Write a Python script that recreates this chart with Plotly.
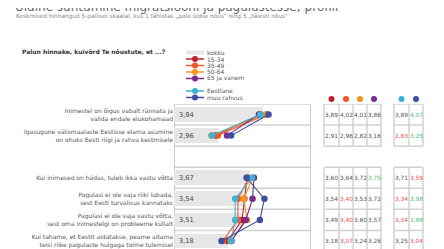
import plotly.graph_objects as go

W, H = 444, 249
FONT = "DejaVu Sans"

title = "Üldine suhtumine migratsiooni ja pagulastesse; profiil"
subtitle = "Keskmised hinnangud 5-pallisel skaalal, kus 1 tähistas „pole üldse nõus\" ning 5 „täiesti nõus\""
question = "Palun hinnake, kuivõrd Te nõustute, et ...?"

statements = [
    "Inimestel on õigus vabalt rännata ja<br>valida endale elukohamaad",
    "Igasugune välismaalaste Eestisse elama asumine<br>on ohuks Eesti riigi ja rahva kestmisele",
    "Kui inimesed on hädas, tuleb ikka vastu võtta",
    "Pagulasi ei ole vaja riiki lubada,<br>sest Eesti turvalisus kannataks",
    "Pagulasi ei ole vaja vastu võtta,<br>sest oma inimestelgi on probleeme küllalt",
    "Kui tahame, et Eestit aidatakse, peame aitama<br>teisi riike pagulaste hulgaga toime tulemisel",
]
row_pos = [0, 1, 3, 4, 5, 6]   # row 2 is the empty separator row

kokku = [3.94, 2.96, 3.67, 3.54, 3.51, 3.18]

age_groups = ["15-34", "35-49", "50-64", "65 ja vanem"]
age_values = {
    "15-34":       [3.89, 2.91, 3.60, 3.54, 3.49, 3.18],
    "35-49":       [4.02, 2.96, 3.64, 3.40, 3.40, 3.07],
    "50-64":       [4.01, 2.82, 3.72, 3.53, 3.60, 3.24],
    "65 ja vanem": [3.86, 3.16, 3.75, 3.72, 3.57, 3.26],
}
age_flags = {
    "15-34":       ["", "", "", "", "", ""],
    "35-49":       ["", "", "", "lo", "lo", "lo"],
    "50-64":       ["", "", "", "", "", ""],
    "65 ja vanem": ["", "", "hi", "", "", ""],
}
nat_groups = ["Eestlane", "muu rahvus"]
nat_values = {
    "Eestlane":   [3.89, 2.83, 3.71, 3.34, 3.34, 3.25],
    "muu rahvus": [4.07, 3.25, 3.59, 3.98, 3.88, 3.04],
}
nat_flags = {
    "Eestlane":   ["", "lo", "", "lo", "lo", ""],
    "muu rahvus": ["hi", "hi", "lo", "hi", "hi", "lo"],
}

colors = {
    "15-34": "#c1202a",
    "35-49": "#ee5527",
    "50-64": "#f7941e",
    "65 ja vanem": "#7a2c8c",
    "Eestlane": "#3cb3d3",
    "muu rahvus": "#3e4ea0",
}
flag_color = {"": "#555555", "lo": "#f0505a", "hi": "#3fbf6e"}
BAR = "#e6e6e6"
GRID = "#d2d2d2"


def px(x):
    return x / W


def py(y):
    return 1 - y / H


def fmt(v):
    return f"{v:.2f}".replace(".", ",")


def with_gap(vals):
    xs, ys = [], []
    for v, p in zip(vals, row_pos):
        if p == 3:
            xs.append(None)
            ys.append(None)
        xs.append(v)
        ys.append(p)
    return xs, ys


fig = go.Figure()

fig.add_trace(go.Bar(x=kokku, y=row_pos, orientation="h", width=0.7,
                     marker=dict(color=BAR, line=dict(width=0)),
                     hoverinfo="skip", showlegend=False))

for g in age_groups + nat_groups:
    vals = age_values.get(g) or nat_values.get(g)
    xs, ys = with_gap(vals)
    fig.add_trace(go.Scatter(x=xs, y=ys, mode="lines+markers",
                             line=dict(color=colors[g], width=1.1),
                             marker=dict(color=colors[g], size=6.5),
                             showlegend=False, name=g))

shapes = []
annotations = []

# panel grid
for b in [-0.5, 0.5, 1.5, 2.5, 3.5, 4.5, 5.5, 6.5]:
    shapes.append(dict(type="line", xref="x", yref="y", x0=2, x1=5, y0=b, y1=b,
                       line=dict(color=GRID, width=1.5), layer="below"))
for xv in [2, 5]:
    shapes.append(dict(type="line", xref="x", yref="y", x0=xv, x1=xv, y0=-0.5, y1=6.5,
                       line=dict(color="#c8c8c8", width=2), layer="below"))

# bar value labels
for v, p in zip(kokku, row_pos):
    annotations.append(dict(x=2.06, y=p, xref="x", yref="y", text=fmt(v), showarrow=False,
                            xanchor="left", yanchor="middle",
                            font=dict(family=FONT, size=6.6, color="#444")))

# tables
age_cols = [316, 331, 345, 359, 373]
nat_cols = [386, 401, 415]


def draw_table(cols, groups, values, flags):
    for (r0, r1) in [(-0.5, 1.5), (2.5, 6.5)]:
        for c in cols:
            shapes.append(dict(type="line", xref="paper", yref="y", x0=px(c), x1=px(c),
                               y0=r0, y1=r1, line=dict(color=GRID, width=1.5)))
        b = r0
        while b <= r1 + 1e-9:
            shapes.append(dict(type="line", xref="paper", yref="y", x0=px(cols[0]), x1=px(cols[-1]),
                               y0=b, y1=b, line=dict(color=GRID, width=1.5)))
            b += 1
    for i, g in enumerate(groups):
        cx = px((cols[i] + cols[i + 1]) / 2)
        shapes.append(dict(type="circle", xref="paper", yref="paper", xsizemode="pixel",
                           ysizemode="pixel", xanchor=cx, yanchor=py(91),
                           x0=-3, x1=3, y0=-3, y1=3,
                           fillcolor=colors[g], line=dict(width=0)))
        for v, f, p in zip(values[g], flags[g], row_pos):
            annotations.append(dict(x=cx, y=p, xref="paper", yref="y", text=fmt(v),
                                    showarrow=False, xanchor="center", yanchor="middle",
                                    font=dict(family=FONT, size=5.8, color=flag_color[f])))


draw_table(age_cols, age_groups, age_values, age_flags)
draw_table(nat_cols, nat_groups, nat_values, nat_flags)

# manual legend
leg_y = {"kokku": 44.5, "15-34": 51, "35-49": 57.5, "50-64": 64, "65 ja vanem": 70.5,
         "Eestlane": 83, "muu rahvus": 89.5}
shapes.append(dict(type="rect", xref="paper", yref="paper", x0=px(178), x1=px(196),
                   y0=py(leg_y["kokku"] + 2), y1=py(leg_y["kokku"] - 2),
                   fillcolor=BAR, line=dict(width=0)))
for g in age_groups + nat_groups:
    yy = py(leg_y[g])
    shapes.append(dict(type="line", xref="paper", yref="paper", x0=px(178), x1=px(196),
                       y0=yy, y1=yy, line=dict(color=colors[g], width=1.5)))
    shapes.append(dict(type="circle", xref="paper", yref="paper", xsizemode="pixel",
                       ysizemode="pixel", xanchor=px(187), yanchor=yy,
                       x0=-3, x1=3, y0=-3, y1=3, fillcolor=colors[g], line=dict(width=0)))
for name, yv in leg_y.items():
    annotations.append(dict(x=px(197), y=py(yv), xref="paper", yref="paper", text=name,
                            showarrow=False, xanchor="left", yanchor="middle",
                            font=dict(family=FONT, size=6, color="#555")))

# titles (the title is partly above the top edge, as in the reference)
annotations.append(dict(x=px(5), y=py(-2), xref="paper", yref="paper", text=title,
                        showarrow=False, xanchor="left", yanchor="middle",
                        font=dict(family=FONT, size=12, color="#666")))
annotations.append(dict(x=px(6), y=py(8.5), xref="paper", yref="paper", text=subtitle,
                        showarrow=False, xanchor="left", yanchor="middle",
                        font=dict(family=FONT, size=5.8, color="#888")))
annotations.append(dict(x=px(12), y=py(43.5), xref="paper", yref="paper",
                        text="<b>" + question + "</b>",
                        showarrow=False, xanchor="left", yanchor="middle",
                        font=dict(family=FONT, size=6, color="#333")))

fig.update_layout(
    width=W, height=H, margin=dict(l=0, r=0, t=0, b=0),
    paper_bgcolor="white", plot_bgcolor="white",
    showlegend=False, bargap=0,
    xaxis=dict(domain=[px(166), px(303)], range=[2, 5], showgrid=False, zeroline=False,
               showticklabels=False, ticks="", fixedrange=True),
    yaxis=dict(domain=[py(243.5), py(96)], range=[6.5, -0.5], showgrid=False, zeroline=False,
               tickvals=row_pos, ticktext=statements, ticks="",
               tickfont=dict(family=FONT, size=6, color="#555")),
    shapes=shapes, annotations=annotations,
)

fig.write_html("out.html")
